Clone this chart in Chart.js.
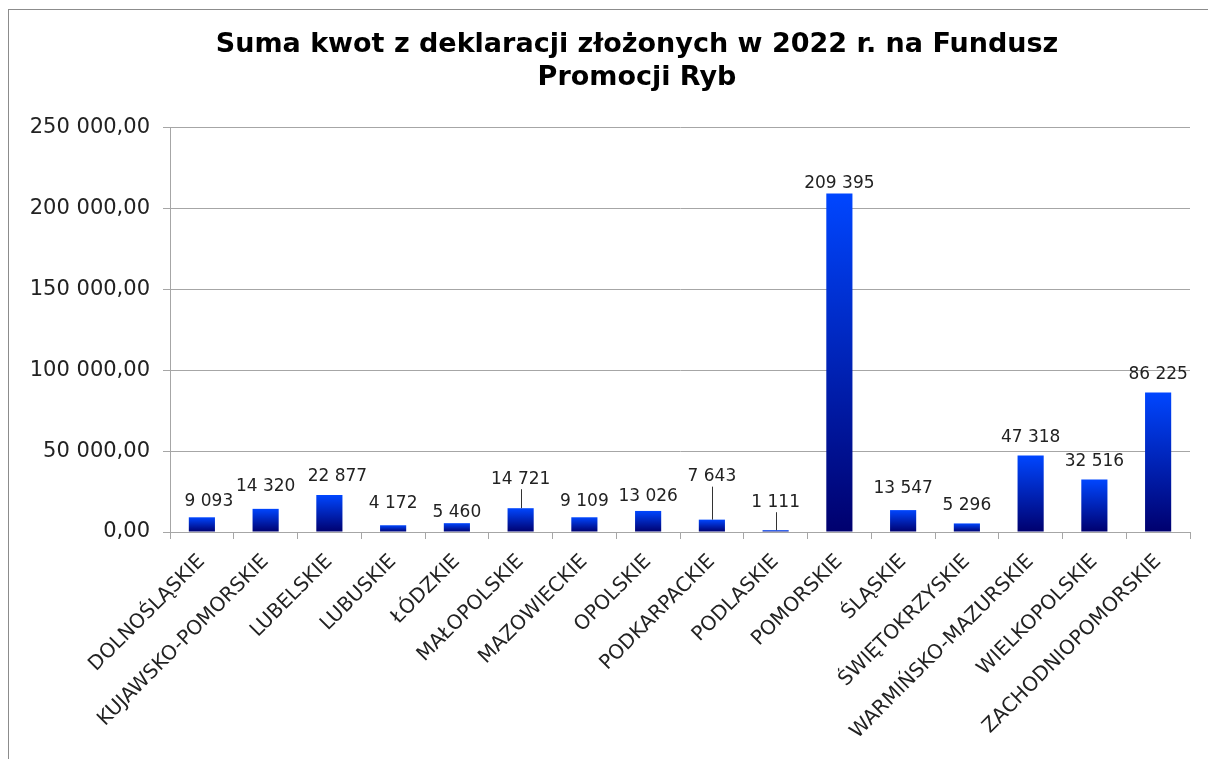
<!DOCTYPE html>
<html>
<head>
<meta charset="utf-8">
<script src="https://cdn.jsdelivr.net/npm/chart.js@4"></script>
<style>
  html, body { margin: 0; padding: 0; background: #fff; overflow: hidden; }
  #frame { position: absolute; left: 8px; top: 9px; width: 1300px; height: 800px; border: 1px solid #8c8c8c; }
  #chart { display: block; }
</style>
</head>
<body>
<div id="frame"><canvas id="chart" width="1256" height="760"></canvas></div>
<script>
// dane z wykresu
const regions = ['DOLNOŚLĄSKIE', 'KUJAWSKO-POMORSKIE', 'LUBELSKIE', 'LUBUSKIE', 'ŁÓDZKIE',
  'MAŁOPOLSKIE', 'MAZOWIECKIE', 'OPOLSKIE', 'PODKARPACKIE', 'PODLASKIE', 'POMORSKIE',
  'ŚLĄSKIE', 'ŚWIĘTOKRZYSKIE', 'WARMIŃSKO-MAZURSKIE', 'WIELKOPOLSKIE', 'ZACHODNIOPOMORSKIE'];
const amounts = [9093, 14320, 22877, 4172, 5460, 14721, 9109, 13026, 7643, 1111, 209395,
  13547, 5296, 47318, 32516, 86225];
const yTicks = [0, 50000, 100000, 150000, 200000, 250000];

const chartTitle = ['Suma kwot z deklaracji złożonych w 2022 r. na Fundusz', 'Promocji Ryb'];

function spaced(n) {
  return String(Math.round(n)).replace(/\B(?=(\d{3})+(?!\d))/g, ' ');
}
function money(n) {
  return spaced(n) + ',00';
}

// etykiety nad słupkami (z kreską dla kilku)
const barLabels = {
  id: 'barLabels',
  afterDatasetsDraw(chart, args, opts) {
    const ctx = chart.ctx;
    const meta = chart.getDatasetMeta(0);
    ctx.save();
    ctx.font = opts.font;
    ctx.fillStyle = opts.color;
    ctx.textAlign = 'center';
    ctx.textBaseline = 'middle';
    meta.data.forEach((bar, i) => {
      const lift = opts.lift[i] ?? 18;
      const dx = opts.dx[i] ?? 0;
      const y = bar.y - lift;
      ctx.fillText(spaced(amounts[i]), bar.x + dx, y);
      if (opts.leaders.includes(i)) {
        ctx.beginPath();
        ctx.strokeStyle = '#333';
        ctx.lineWidth = 1;
        ctx.moveTo(Math.round(bar.x) + 0.5, y + 10);
        ctx.lineTo(Math.round(bar.x) + 0.5, bar.y);
        ctx.stroke();
      }
    });
    ctx.restore();
  }
};

const ctx = document.getElementById('chart').getContext('2d');
window.chart = new Chart(ctx, {
  type: 'bar',
  data: {
    labels: regions,
    datasets: [{
      data: amounts,
      backgroundColor: (c) => {
        const ch = c.chart;
        if (!ch.chartArea) return '#0030e0';
        const top = ch.scales.y.getPixelForValue(c.raw);
        const bottom = ch.scales.y.getPixelForValue(0);
        const g = ch.ctx.createLinearGradient(0, top, 0, bottom);
        g.addColorStop(0, '#0046ff');
        g.addColorStop(1, '#00006e');
        return g;
      },
      borderWidth: 0,
      barPercentage: 0.41,
      categoryPercentage: 1
    }]
  },
  options: {
    responsive: false,
    animation: false,
    layout: { padding: 0 },
    plugins: {
      legend: { display: false },
      tooltip: { enabled: false },
      title: {
        display: true,
        text: chartTitle,
        color: '#000',
        font: { family: 'DejaVu Sans', size: 27, weight: 'bold', lineHeight: 1.22 },
        padding: { top: 19, bottom: 33 }
      },
      barLabels: {
        font: '17px "DejaVu Sans"',
        color: '#222',
        lift: { 0: 16, 1: 22, 2: 18, 3: 22, 4: 11, 5: 29, 6: 16, 7: 14, 8: 43, 9: 28, 10: 10, 11: 22 },
        dx: { 0: 7, 2: 8 },
        leaders: [5, 8, 9]
      }
    },
    scales: {
      x: {
        afterFit: (s) => { s.height = 238; },
        grid: { drawOnChartArea: false, drawTicks: true, tickLength: 7, color: '#a6a6a6', offset: true },
        border: { color: '#a6a6a6' },
        ticks: {
          maxRotation: 45, minRotation: 45, autoSkip: false,
          color: '#222', padding: 11,
          font: { family: 'DejaVu Sans', size: 20 }
        }
      },
      y: {
        min: 0, max: 250000,
        afterFit: (s) => { s.width = 161; },
        afterBuildTicks: (s) => { s.ticks = yTicks.map(v => ({ value: v })); },
        grid: { color: '#a6a6a6', tickLength: 7 },
        border: { color: '#a6a6a6' },
        ticks: {
          color: '#222', padding: 13,
          font: { family: 'DejaVu Sans', size: 21 },
          callback: (v) => money(v)
        }
      },
      // pusta oś po prawej, żeby tytuł był wyśrodkowany jak w oryginale
      right: {
        type: 'linear',
        position: 'right',
        afterFit: (s) => { s.width = 75; },
        grid: { display: false },
        border: { display: false },
        ticks: { display: false }
      }
    }
  },
  plugins: [barLabels]
});
</script>
</body>
</html>
